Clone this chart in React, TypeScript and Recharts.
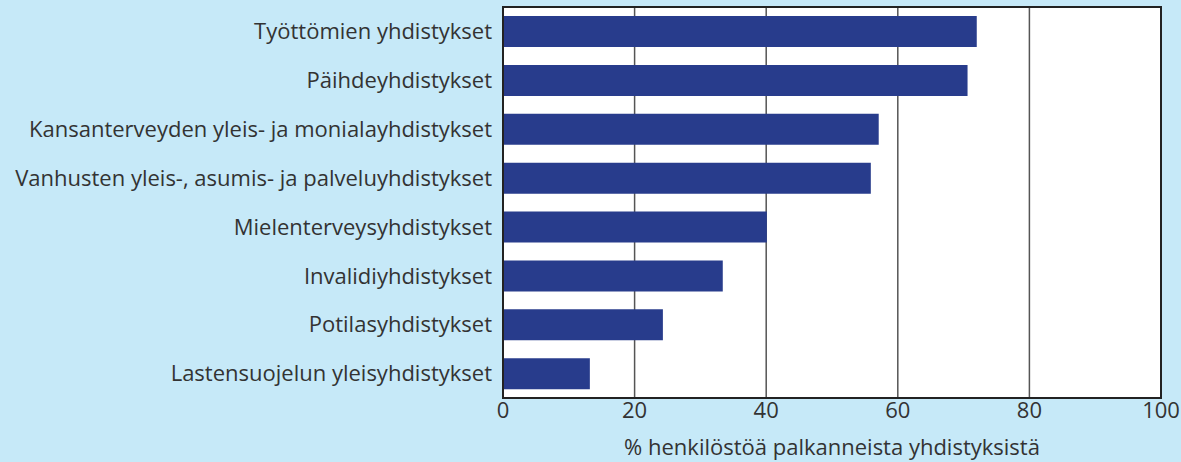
import { Bar, BarChart, CartesianGrid, ReferenceArea, XAxis, YAxis } from 'recharts'

const categories = [
  'Työttömien yhdistykset',
  'Päihdeyhdistykset',
  'Kansanterveyden yleis- ja monialayhdistykset',
  'Vanhusten yleis-, asumis- ja palveluyhdistykset',
  'Mielenterveysyhdistykset',
  'Invalidiyhdistykset',
  'Potilasyhdistykset',
  'Lastensuojelun yleisyhdistykset',
]
const values = [72, 70.6, 57.1, 55.9, 40.1, 33.4, 24.3, 13.2]
const xTicks = [0, 20, 40, 60, 80, 100]
const xLabel = '% henkilöstöä palkanneista yhdistyksistä'

const data = categories.map((name, i) => ({ name, value: values[i] }))

const BG = '#c6e9f8'
const BAR = '#283c8c'
const TEXT = '#333333'
const FONT = '"Open Sans", "Noto Sans", sans-serif'

export default function App() {
  return (
    <div style={{ position: 'fixed', left: 0, top: 0, width: 1181, height: 462, background: BG }}>
      <BarChart
        width={1181}
        height={462}
        data={data}
        layout="vertical"
        margin={{ top: 7, right: 20, bottom: 0, left: 0 }}
        style={{ fontFamily: FONT }}
      >
        <CartesianGrid horizontal={false} stroke="#555" strokeWidth={1.5} fill="#ffffff" fillOpacity={1} />
        <XAxis
          type="number"
          domain={[0, 100]}
          ticks={xTicks}
          height={64}
          axisLine={{ stroke: '#222', strokeWidth: 2 }}
          tickLine={false}
          tickSize={0}
          tickMargin={4}
          tick={{ fill: TEXT, fontSize: 22 }}
          label={{ value: xLabel, position: 'insideBottom', offset: 7, fill: TEXT, fontSize: 22 }}
        />
        <YAxis
          type="category"
          dataKey="name"
          width={503}
          axisLine={{ stroke: '#222', strokeWidth: 2 }}
          tickLine={false}
          tickSize={0}
          tickMargin={11}
          interval={0}
          tick={{ fill: TEXT, fontSize: 22 }}
        />
        <Bar dataKey="value" fill={BAR} barSize={31} isAnimationActive={false} />
        <ReferenceArea x1={0} x2={100} fill="none" stroke="#222" strokeWidth={2} />
      </BarChart>
    </div>
  )
}
